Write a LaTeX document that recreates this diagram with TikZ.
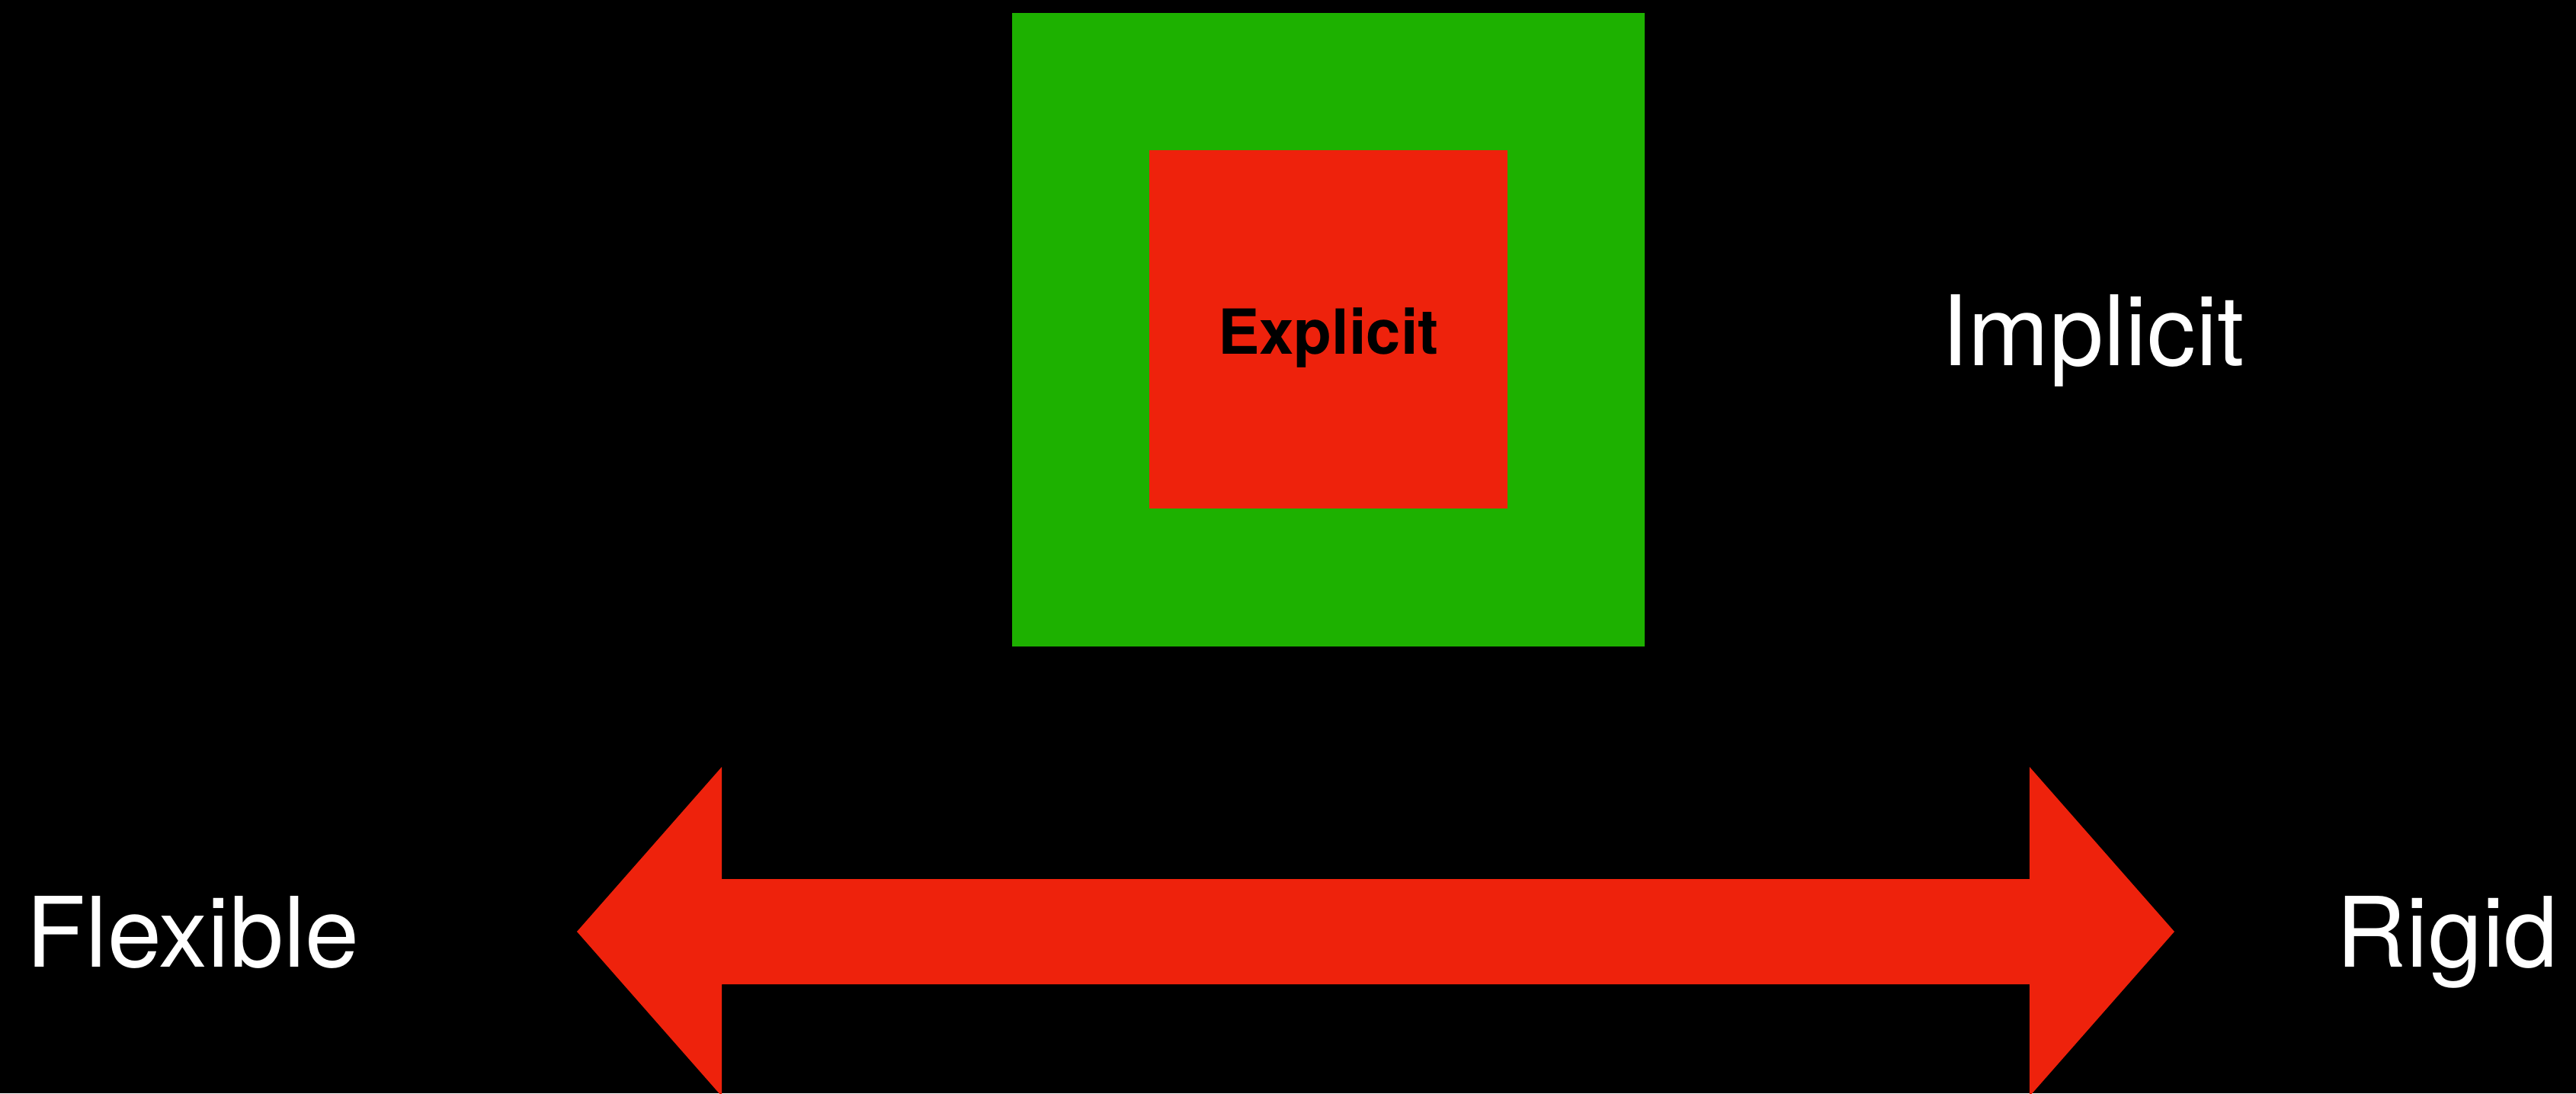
\documentclass[tikz,border=0pt]{standalone}
\usepackage{fontspec}
\setmainfont{TeX Gyre Heros}
\definecolor{kgreen}{HTML}{1DB100}
\definecolor{kred}{HTML}{EE220C}
\begin{document}
\begin{tikzpicture}[
  whitelabel/.style={text=white, inner sep=0pt, anchor=base, font=\fontsize{36.3}{40}\selectfont},
  boxlabel/.style={text=black, inner sep=0pt, anchor=base, font=\bfseries\fontsize{23.2}{28}\selectfont},
  box/.style={inner sep=0pt, draw=none}
]
\useasboundingbox (0,0) rectangle (33.8,14.34);
\fill[black] (0,0) rectangle (33.8,14.34);
\clip (0,0) rectangle (33.8,14.34);
% outer green square and inner red square
\node[box, fill=kgreen, minimum width=8.30cm, minimum height=8.31cm] (outer) at (17.43,10.015) {};
\node[box, fill=kred, minimum width=4.70cm, minimum height=4.70cm] (inner) at (17.43,10.02) {};
\node[boxlabel] (explicit) at (17.43,9.69) {Explicit};
\node[whitelabel] (implicit) at (27.46,9.54) {Implicit};
% double arrow
\fill[kred] (7.57,2.12) -- (9.47,4.28) -- (9.47,2.81) -- (26.63,2.81) -- (26.63,4.28)
  -- (28.53,2.12) -- (26.63,-0.04) -- (26.63,1.43) -- (9.47,1.43) -- (9.47,-0.04) -- cycle;
\node[whitelabel] (flexible) at (2.53,1.66) {Flexible};
\node[whitelabel] (rigid) at (32.11,1.66) {Rigid};
\end{tikzpicture}
\end{document}
